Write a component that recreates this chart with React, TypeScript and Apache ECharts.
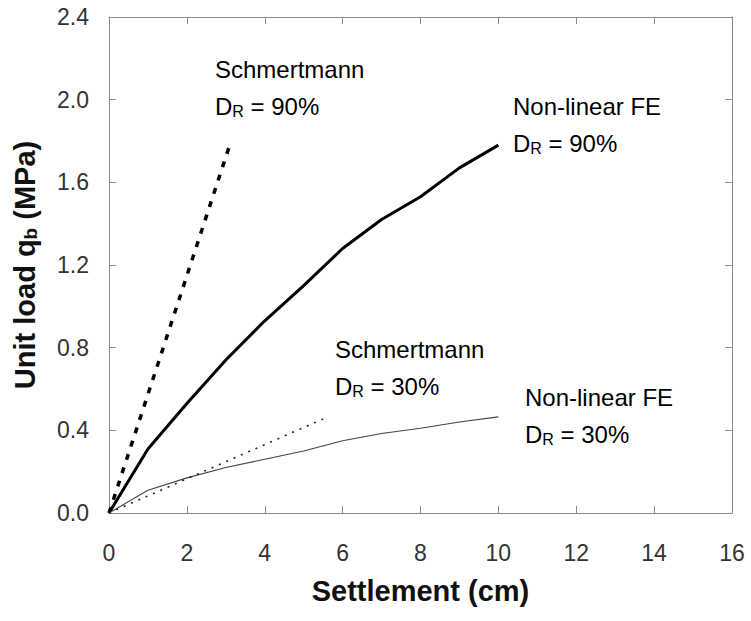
import React, { useEffect, useRef } from "react";
import * as echarts from "echarts";

const settlementSteps = [0, 1, 2, 3, 4, 5, 6, 7, 8, 9, 10];
const feDense = [0, 0.31, 0.53, 0.74, 0.93, 1.1, 1.28, 1.42, 1.53, 1.67, 1.78];
const feLoose = [0, 0.11, 0.17, 0.22, 0.26, 0.3, 0.35, 0.385, 0.41, 0.44, 0.465];
const schmDenseX = [0, 3.1];
const schmDenseY = [0, 1.78];
const schmLooseX = [0, 5.5];
const schmLooseY = [0, 0.455];
const xTicks = { min: 0, max: 16, interval: 2 };
const yTicks = { min: 0, max: 2.4, interval: 0.4 };

const FONT = "'Liberation Sans', Arial, Helvetica, sans-serif";
const AXIS_COLOR = "#8a8a8a";

const zip = (xs: number[], ys: number[]) => xs.map((x, i) => [x, ys[i]]);

export default function App() {
  const ref = useRef<HTMLDivElement>(null);
  useEffect(() => {
    if (!ref.current) return;
    const chart = echarts.init(ref.current, undefined, { renderer: "svg" });
    const annoRich = {
      a: { fontSize: 24, lineHeight: 37, fontFamily: FONT, color: "#333" },
      s: { fontSize: 16, lineHeight: 37, padding: [10, 0, 0, 0], fontFamily: FONT, color: "#333" },
    };
    const anno = (x: number, y: number, l1: string, pct: string) => ({
      type: "text",
      x,
      y,
      style: {
        text: `{a|${l1}}\n{a|D}{s|R}{a| = ${pct}}`,
        rich: annoRich,
        verticalAlign: "top",
        align: "left",
        fontFamily: FONT,
      },
    });
    const axisCommon = {
      axisLine: { show: true, onZero: false, lineStyle: { color: AXIS_COLOR, width: 1 } },
      axisTick: { show: true, inside: true, length: 7, lineStyle: { color: AXIS_COLOR } },
      splitLine: { show: false },
    };
    chart.setOption({
      animation: false,
      backgroundColor: "#fff",
      grid: { left: 108, right: 19, top: 17, bottom: 108, containLabel: false },
      xAxis: [
        {
          type: "value",
          ...xTicks,
          ...axisCommon,
          position: "bottom",
          axisLabel: { fontSize: 23, color: "#333", margin: 28, fontFamily: FONT },
          name: "Settlement (cm)",
          nameLocation: "middle",
          nameGap: 63,
          nameTextStyle: { fontSize: 29, fontWeight: "bold", color: "#111", fontFamily: FONT },
        },
        {
          type: "value",
          ...xTicks,
          ...axisCommon,
          position: "top",
          axisLabel: { show: false },
        },
      ],
      yAxis: [
        {
          type: "value",
          ...yTicks,
          ...axisCommon,
          position: "left",
          axisLabel: {
            fontSize: 23,
            color: "#333",
            margin: 20,
            fontFamily: FONT,
            formatter: (v: number) => v.toFixed(1),
          },
          name: "Unit load q{s|b} (MPa)",
          nameLocation: "middle",
          nameGap: 84,
          nameTextStyle: {
            fontSize: 29,
            fontWeight: "bold",
            color: "#111",
            fontFamily: FONT,
            lineHeight: 34,
            verticalAlign: "middle",
            rich: {
              s: { fontSize: 19, fontWeight: "bold", lineHeight: 34, padding: [11, 0, 0, 0], color: "#111", fontFamily: FONT },
            },
          },
        },
        {
          type: "value",
          ...yTicks,
          ...axisCommon,
          position: "right",
          axisLabel: { show: false },
        },
      ],
      series: [
        {
          name: "Non-linear FE DR = 90%",
          type: "line",
          data: zip(settlementSteps, feDense),
          showSymbol: false,
          lineStyle: { color: "#000", width: 3 },
        },
        {
          name: "Schmertmann DR = 90%",
          type: "line",
          data: zip(schmDenseX, schmDenseY),
          showSymbol: false,
          lineStyle: { color: "#000", width: 3.5, type: [6, 8] },
        },
        {
          name: "Non-linear FE DR = 30%",
          type: "line",
          data: zip(settlementSteps, feLoose),
          showSymbol: false,
          lineStyle: { color: "#444", width: 1.1 },
        },
        {
          name: "Schmertmann DR = 30%",
          type: "line",
          data: zip(schmLooseX, schmLooseY),
          showSymbol: false,
          lineStyle: { color: "#222", width: 1.6, type: [2, 6] },
        },
      ],
      graphic: [
        anno(215, 51, "Schmertmann", "90%"),
        anno(513, 88, "Non-linear FE", "90%"),
        anno(335, 331, "Schmertmann", "30%"),
        anno(525, 379, "Non-linear FE", "30%"),
      ],
    });
    return () => chart.dispose();
  }, []);
  return (
    <div
      ref={ref}
      style={{ position: "fixed", left: 0, top: 0, width: 751, height: 621, background: "#fff" }}
    />
  );
}
